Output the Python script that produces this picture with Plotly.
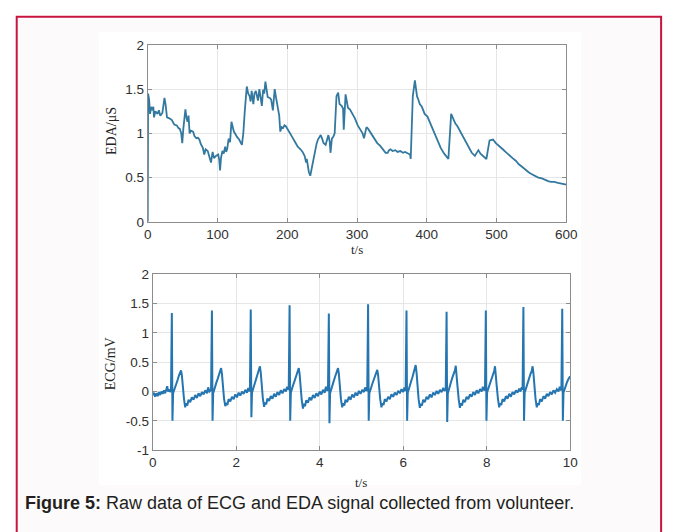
import plotly.graph_objects as go

W, H = 677, 532

# ---------------- data ----------------
eda_t = [0, 0.5, 2, 3.3, 5, 6.5, 8, 9, 11, 14, 16, 18, 21, 24, 25.5, 27.6, 31, 34.6, 38, 41.6,
         44, 46, 48, 49.5, 51, 54, 55.5, 57, 58.5, 60, 62, 65, 67, 69.6, 72, 74, 76, 79, 81, 83,
         86, 88, 90.7, 93, 95, 97.7, 101, 102.5, 103.7, 105, 107, 109, 111, 112.5, 114, 116, 118,
         120, 121.5, 123.5, 128, 131, 135, 137, 139, 142, 144, 146, 147.5, 149, 151.4, 153, 155,
         156.5, 158, 160, 162, 163.6, 165.4, 167, 168.7, 170.5, 172, 175, 177, 179.4, 182, 184,
         186.6, 188.5, 190, 192, 194, 196, 198, 203, 207, 212, 215, 219, 222, 225, 226, 227, 228,
         229.5, 231, 233, 234, 236, 238, 240, 242, 244, 246, 248, 250, 252, 255, 257, 259, 261,
         262, 264, 266, 268, 270.6, 273, 274, 275, 278, 280, 281, 283.6, 285, 287, 290, 294, 297,
         301, 305, 308, 310, 313.6, 316, 320, 324, 329, 333, 338, 341, 344, 346, 348, 351, 355,
         358, 362, 366, 369, 373, 376, 377, 380, 383, 384.5, 386, 388, 390, 393, 397, 401, 406,
         411, 416, 420, 425, 429.5, 431, 435, 438, 441, 444, 448, 450, 454, 457.6, 461, 464.5,
         469, 471, 474, 477, 481, 485.5, 490, 495, 499, 504, 509, 513, 518, 523, 527.6, 532, 537,
         541, 546, 550, 555, 560, 565, 570, 574, 578, 583, 588, 593, 598, 600]
eda_us = [0, 1.45, 1.38, 1.22, 1.30, 1.26, 1.30, 1.18, 1.25, 1.22, 1.26, 1.20, 1.23, 1.40, 1.33,
          1.18, 1.17, 1.15, 1.10, 1.09, 1.06, 1.05, 1.0, 0.89, 1.05, 1.27, 1.18, 1.13, 1.20, 1.0,
          1.03, 1.02, 0.97, 0.945, 0.95, 0.93, 0.88, 0.835, 0.76, 0.82, 0.80, 0.74, 0.67, 0.79,
          0.72, 0.744, 0.76, 0.70, 0.58, 0.72, 0.80, 0.77, 0.85, 0.79, 0.83, 0.94, 0.90, 1.13,
          1.08, 1.02, 0.96, 0.93, 0.87, 1.0, 1.24, 1.53, 1.45, 1.42, 1.36, 1.48, 1.33, 1.45, 1.48,
          1.40, 1.37, 1.50, 1.40, 1.31, 1.495, 1.45, 1.585, 1.45, 1.41, 1.40, 1.38, 1.26, 1.50,
          1.40, 1.30, 1.20, 1.02, 1.07, 1.06, 1.09, 1.08, 1.02, 0.96, 0.89, 0.85, 0.82, 0.79,
          0.744, 0.70, 0.67, 0.71, 0.60, 0.56, 0.52, 0.56, 0.63, 0.72, 0.82, 0.88, 0.93, 0.96,
          0.98, 0.94, 0.89, 0.87, 0.93, 0.98, 0.90, 0.78, 0.94, 0.96, 1.0, 1.42, 1.46, 1.38, 1.33,
          1.31, 1.28, 1.04, 1.44, 1.38, 1.29, 1.27, 1.22, 1.17, 1.09, 1.04, 1.0, 0.945, 1.07,
          1.05, 1.0, 0.95, 0.89, 0.86, 0.81, 0.78, 0.78, 0.81, 0.82, 0.80, 0.81, 0.79, 0.80, 0.78,
          0.79, 0.77, 0.76, 0.71, 1.42, 1.60, 1.50, 1.42, 1.38, 1.33, 1.30, 1.22, 1.19, 1.10, 1.0,
          0.92, 0.835, 0.77, 0.725, 0.71, 1.22, 1.16, 1.11, 1.08, 1.02, 1.0, 0.93, 0.87, 0.82,
          0.78, 0.745, 0.77, 0.81, 0.77, 0.745, 0.71, 0.92, 0.93, 0.89, 0.86, 0.82, 0.79, 0.76,
          0.72, 0.69, 0.65, 0.62, 0.59, 0.56, 0.54, 0.515, 0.50, 0.49, 0.47, 0.46, 0.45, 0.45,
          0.44, 0.43, 0.42, 0.42]

ecg_t = [
    0.00, 0.03, 0.06, 0.09, 0.12, 0.15, 0.18, 0.21, 0.24, 0.27, 0.30, 0.33, 0.35, 0.37, 0.40, 0.42, 0.44,
    0.46, 0.475, 0.49, 0.51, 0.54, 0.57, 0.60, 0.63, 0.66, 0.68, 0.70, 0.72, 0.75, 0.78, 0.80, 0.83, 0.86, 0.90, 0.94, 0.98, 1.02, 1.06, 1.10, 1.14, 1.18, 1.22, 1.26, 1.30, 1.33, 1.36, 1.40,
    1.42, 1.435, 1.45, 1.47, 1.50, 1.53, 1.56, 1.59, 1.62, 1.64, 1.66, 1.68, 1.71, 1.74, 1.76, 1.79, 1.82, 1.86, 1.90, 1.94, 1.98, 2.02, 2.06, 2.10, 2.14, 2.18, 2.22, 2.26, 2.29, 2.32, 2.33,
    2.35, 2.365, 2.38, 2.40, 2.43, 2.46, 2.49, 2.52, 2.55, 2.57, 2.59, 2.61, 2.64, 2.67, 2.69, 2.72, 2.75, 2.79, 2.83, 2.87, 2.91, 2.95, 2.99, 3.03, 3.07, 3.11, 3.15, 3.19, 3.22, 3.25, 3.26,
    3.28, 3.295, 3.31, 3.33, 3.36, 3.39, 3.42, 3.45, 3.48, 3.50, 3.52, 3.54, 3.57, 3.60, 3.62, 3.65, 3.68, 3.72, 3.76, 3.80, 3.84, 3.88, 3.92, 3.96, 4.00, 4.04, 4.08, 4.12, 4.15, 4.18, 4.20,
    4.22, 4.235, 4.25, 4.27, 4.30, 4.33, 4.36, 4.39, 4.42, 4.44, 4.46, 4.48, 4.51, 4.54, 4.56, 4.59, 4.62, 4.66, 4.70, 4.74, 4.78, 4.82, 4.86, 4.90, 4.94, 4.98, 5.02, 5.06, 5.09, 5.12, 5.14,
    5.16, 5.175, 5.19, 5.21, 5.24, 5.27, 5.30, 5.33, 5.36, 5.38, 5.40, 5.42, 5.45, 5.48, 5.50, 5.53, 5.56, 5.60, 5.64, 5.68, 5.72, 5.76, 5.80, 5.84, 5.88, 5.92, 5.96, 6.00, 6.03, 6.05, 6.06,
    6.08, 6.095, 6.11, 6.13, 6.16, 6.19, 6.22, 6.25, 6.28, 6.30, 6.32, 6.34, 6.37, 6.40, 6.42, 6.45, 6.48, 6.52, 6.56, 6.60, 6.64, 6.68, 6.72, 6.76, 6.80, 6.84, 6.88, 6.92, 6.96, 6.99, 7.02,
    7.04, 7.055, 7.07, 7.09, 7.12, 7.15, 7.18, 7.21, 7.24, 7.26, 7.28, 7.30, 7.33, 7.36, 7.38, 7.41, 7.44, 7.48, 7.52, 7.56, 7.60, 7.64, 7.68, 7.72, 7.76, 7.80, 7.84, 7.88, 7.91, 7.94, 7.96,
    7.98, 7.995, 8.01, 8.03, 8.06, 8.09, 8.12, 8.15, 8.18, 8.20, 8.22, 8.24, 8.27, 8.30, 8.32, 8.35, 8.38, 8.42, 8.46, 8.50, 8.54, 8.58, 8.62, 8.66, 8.70, 8.74, 8.78, 8.81, 8.84, 8.86,
    8.88, 8.895, 8.91, 8.93, 8.96, 8.99, 9.02, 9.05, 9.08, 9.10, 9.12, 9.14, 9.17, 9.20, 9.22, 9.25, 9.28, 9.32, 9.36, 9.40, 9.44, 9.48, 9.52, 9.56, 9.60, 9.64, 9.68, 9.72, 9.75, 9.78, 9.79,
    9.81, 9.825, 9.84, 9.86, 9.89, 9.92, 9.95, 9.98, 10.0]
ecg_mv = [
    -0.06, -0.02, -0.09, -0.03, -0.08, -0.01, -0.06, 0.00, -0.04, 0.02, -0.03, 0.03, 0.09, 0.00, 0.04, -0.01, 0.02,
    1.34, -0.50, -0.03, 0.02, 0.08, 0.15, 0.20, 0.27, 0.31, 0.36, 0.28, 0.10, -0.12, -0.27, -0.20, -0.24, -0.14, -0.18, -0.10, -0.14, -0.06, -0.11, -0.03, -0.08, -0.01, -0.05, 0.02, -0.03, 0.07, 0.00, 0.03,
    1.38, -0.50, -0.03, 0.03, 0.09, 0.16, 0.22, 0.29, 0.34, 0.40, 0.30, 0.10, -0.12, -0.25, -0.19, -0.23, -0.13, -0.17, -0.09, -0.13, -0.05, -0.10, -0.02, -0.07, 0.00, -0.04, 0.03, -0.02, 0.06, 0.00, 0.02,
    1.40, -0.44, -0.02, 0.03, 0.10, 0.17, 0.24, 0.30, 0.36, 0.43, 0.32, 0.10, -0.12, -0.26, -0.19, -0.22, -0.12, -0.16, -0.08, -0.12, -0.04, -0.09, -0.01, -0.06, 0.02, -0.03, 0.04, 0.00, 0.08, 0.03, 0.05,
    1.47, -0.50, -0.02, 0.04, 0.10, 0.16, 0.23, 0.29, 0.34, 0.40, 0.30, 0.10, -0.14, -0.29, -0.21, -0.25, -0.15, -0.19, -0.10, -0.15, -0.06, -0.11, -0.03, -0.08, 0.00, -0.05, 0.03, -0.02, 0.08, 0.01, 0.04,
    1.33, -0.54, -0.03, 0.03, 0.09, 0.16, 0.23, 0.29, 0.34, 0.40, 0.30, 0.10, -0.13, -0.27, -0.20, -0.24, -0.14, -0.18, -0.09, -0.14, -0.05, -0.10, -0.02, -0.07, 0.01, -0.04, 0.03, -0.01, 0.07, 0.01, 0.03,
    1.49, -0.50, -0.03, 0.03, 0.08, 0.15, 0.21, 0.27, 0.32, 0.37, 0.28, 0.09, -0.13, -0.27, -0.20, -0.23, -0.13, -0.17, -0.09, -0.13, -0.05, -0.09, -0.02, -0.06, 0.01, -0.03, 0.04, -0.01, 0.07, 0.01, 0.03,
    1.38, -0.50, -0.02, 0.04, 0.10, 0.17, 0.24, 0.31, 0.37, 0.45, 0.33, 0.10, -0.13, -0.28, -0.21, -0.24, -0.14, -0.18, -0.09, -0.13, -0.05, -0.10, -0.02, -0.06, 0.01, -0.04, 0.03, -0.01, 0.06, 0.01, 0.04,
    1.36, -0.52, -0.03, 0.03, 0.10, 0.17, 0.24, 0.30, 0.36, 0.44, 0.32, 0.10, -0.13, -0.28, -0.20, -0.24, -0.14, -0.18, -0.09, -0.13, -0.05, -0.09, -0.01, -0.06, 0.02, -0.03, 0.04, 0.00, 0.08, 0.02, 0.04,
    1.38, -0.50, -0.02, 0.03, 0.09, 0.16, 0.23, 0.30, 0.35, 0.43, 0.31, 0.10, -0.12, -0.27, -0.20, -0.23, -0.13, -0.17, -0.08, -0.12, -0.04, -0.09, -0.01, -0.05, 0.02, -0.02, 0.05, 0.00, 0.07, 0.03,
    1.44, -0.50, -0.02, 0.03, 0.09, 0.16, 0.23, 0.30, 0.35, 0.43, 0.31, 0.10, -0.12, -0.27, -0.20, -0.23, -0.13, -0.17, -0.08, -0.12, -0.04, -0.08, -0.01, -0.05, 0.02, -0.02, 0.04, 0.00, 0.08, 0.02, 0.04,
    1.41, -0.50, -0.02, 0.03, 0.09, 0.15, 0.20, 0.24, 0.26]

eda_xticks = [0, 100, 200, 300, 400, 500, 600]
eda_yticks = [0, 0.5, 1, 1.5, 2]
eda_ylabels = ["0", "0.5", "1", "1.5", "2"]
ecg_xticks = [0, 2, 4, 6, 8, 10]
ecg_yticks = [-1, -0.5, 0, 0.5, 1, 1.5, 2]
ecg_ylabels = ["-1", "-0.5", "0", "0.5", "1", "1.5", "2"]

caption = "<b>Figure 5:</b> Raw data of ECG and EDA signal collected from volunteer."

# ---------------- helpers ----------------
def px(x):
    return x / W

def py(y):
    return 1 - y / H

fig = go.Figure()
fig.add_trace(go.Scatter(x=eda_t, y=eda_us, mode="lines", xaxis="x", yaxis="y",
                         line=dict(color="#33799f", width=1.8), showlegend=False))
fig.add_trace(go.Scatter(x=ecg_t, y=ecg_mv, mode="lines", xaxis="x2", yaxis="y2",
                         line=dict(color="#2475b0", width=2.0), showlegend=False))

tickfont = dict(family="Liberation Sans, Arial, sans-serif", size=13.5, color="#303030")
axcommon = dict(showgrid=True, gridcolor="#e6e6e6", gridwidth=1, zeroline=False,
                showline=True, linecolor="#8c8c8c", linewidth=1, mirror="ticks",
                ticks="inside", ticklen=4, tickcolor="#8c8c8c", tickfont=tickfont)

fig.update_layout(
    width=W, height=H, margin=dict(l=0, r=0, t=0, b=0),
    paper_bgcolor="white", plot_bgcolor="white",
    xaxis=dict(domain=[px(147), px(575)], anchor="y", range=[0, 600],
               tickvals=eda_xticks, **axcommon),
    yaxis=dict(domain=[py(221), py(39)], anchor="x", range=[0, 2],
               tickvals=eda_yticks, ticktext=eda_ylabels, **axcommon),
    xaxis2=dict(domain=[px(152), px(579)], anchor="y2", range=[0, 10],
                tickvals=ecg_xticks, **axcommon),
    yaxis2=dict(domain=[py(456), py(275)], anchor="x2", range=[-1, 2],
                tickvals=ecg_yticks, ticktext=ecg_ylabels, **axcommon),
    shapes=[
        dict(type="rect", xref="paper", yref="paper", x0=px(13), x1=px(672), y0=-0.02, y1=py(10),
             line=dict(color="#c8153f", width=2), fillcolor="#fcfafb", layer="below"),
        dict(type="rect", xref="paper", yref="paper", x0=px(97), x1=px(590), y0=py(492), y1=py(26),
             line=dict(width=0), fillcolor="white", layer="below"),
    ],
)

serif = dict(family="Liberation Serif, Times New Roman, serif", size=14, color="#262626")
ann = [
    dict(text="EDA/\u03bcS", x=px(110), y=py(128), textangle=-90, font=serif),
    dict(text="t/s", x=px(361), y=py(250), font=dict(serif, size=13)),
    dict(text="ECG/mV", x=px(109), y=py(367), textangle=-90, font=serif),
    dict(text="t/s", x=px(365), y=py(489), font=dict(serif, size=13)),
]
for a in ann:
    fig.add_annotation(xref="paper", yref="paper", showarrow=False,
                       xanchor="center", yanchor="middle", **a)
fig.add_annotation(xref="paper", yref="paper", showarrow=False, x=px(19), y=py(510),
                   xanchor="left", yanchor="middle", text=caption,
                   font=dict(family="Liberation Sans, Arial, sans-serif", size=18, color="#231f20"))

fig.write_html("out.html", config={"displayModeBar": False},
               post_script="document.body.style.margin='0';document.body.style.overflow='hidden';")
